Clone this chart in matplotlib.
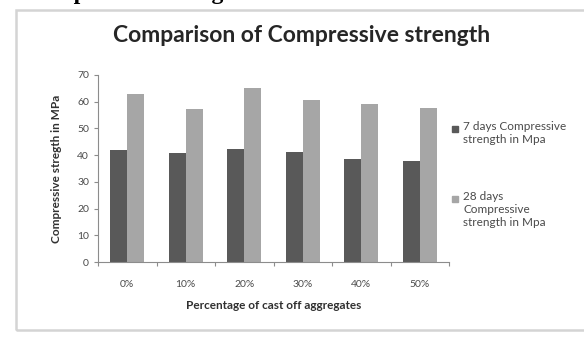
import numpy as np
import matplotlib
matplotlib.use("Agg")
from matplotlib import pyplot as plt
from matplotlib.patches import Rectangle

categories = ['0%', '10%', '20%', '30%', '40%', '50%']
days_7 = [41.8, 40.9, 42.3, 41.3, 38.5, 37.9]
days_28 = [62.8, 57.1, 65.1, 60.8, 59.1, 57.5]
series_names = ['7 days Compressive\nstrength in Mpa', '28 days\nCompressive\nstrength in Mpa']
colors = ['#595959', '#a6a6a6']

plt.rcParams['font.family'] = ['Lato', 'DejaVu Sans']

W, H = 584, 339
fig = plt.figure(figsize=(W / 100, H / 100), dpi=100)

# chart frame (Excel-like grey border)
fig.patches.append(Rectangle((16 / W, 1 - 330 / H), 600 / W, 320 / H,
                             transform=fig.transFigure, fill=False,
                             edgecolor='#d4d4d4', linewidth=1.8))

# descenders of clipped heading above the chart
fig.text(25 / W, 1 + 1 / H, 'Compressive strength', fontsize=17,
         family='Liberation Serif', fontweight='bold', va='baseline', ha='left')

ax = fig.add_axes([98 / W, 1 - 262 / H, 351 / W, 187 / H])

x = np.arange(len(categories))
w = 0.29
ax.bar(x - w / 2, days_7, w, color=colors[0])
ax.bar(x + w / 2, days_28, w, color=colors[1])

ax.set_xlim(-0.5, len(categories) - 0.5)
ax.set_ylim(0, 70)
ax.set_yticks(range(0, 71, 10))
ax.set_xticks(x)
ax.set_xticklabels(categories)
ax.set_xticks(np.arange(-0.5, len(categories), 1), minor=True)

for s in ['top', 'right']:
    ax.spines[s].set_visible(False)
for s in ['left', 'bottom']:
    ax.spines[s].set_color('#8c8c8c')
    ax.spines[s].set_linewidth(0.8)

ax.tick_params(axis='y', labelsize=7.5, colors='#8c8c8c', labelcolor='#4a4a4a', length=3, width=0.8)
ax.tick_params(axis='x', which='major', length=0, labelsize=7.5, labelcolor='#4a4a4a', pad=13)
ax.tick_params(axis='x', which='minor', length=3, width=0.8, colors='#8c8c8c')

ax.set_xlabel('Percentage of cast off aggregates', fontsize=8.5, fontweight='bold',
              color='#303030', labelpad=8)
ax.set_ylabel('Compressive stregth in MPa', fontsize=8.5, fontweight='bold',
              color='#303030', labelpad=11)

fig.text(302 / W, 1 - 35 / H, 'Comparison of Compressive strength', fontsize=16.5,
         fontweight='bold', color='#262626', ha='center', va='center')

# legend: square next to the first line of each entry, like Excel
leg_tops = [121, 191]
for name, col, top in zip(series_names, colors, leg_tops):
    fig.text(463 / W, 1 - top / H, name, fontsize=8.5, color='#4a4a4a',
             ha='left', va='top', linespacing=1.25)
    fig.patches.append(Rectangle((452 / W, 1 - (top + 11) / H), 6 / W, 6 / H,
                                 transform=fig.transFigure, color=col))

fig.savefig('out.png', dpi=100)
